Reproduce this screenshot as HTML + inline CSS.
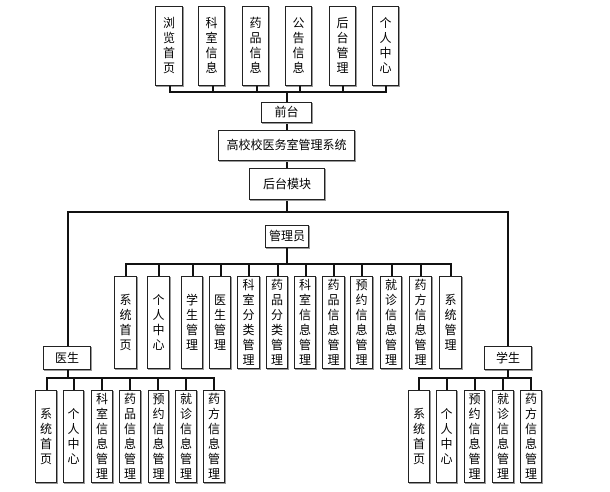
<!DOCTYPE html><html><head><meta charset="utf-8"><style>
body{margin:0;width:610px;height:492px;background:#fff;position:relative;overflow:hidden;font-family:"Liberation Sans","Noto Sans CJK SC",sans-serif;}
.b{position:absolute;box-sizing:border-box;border:1px solid #222;box-shadow:1px 1px 0 #999;background:#fff;display:flex;align-items:center;justify-content:center;text-align:center;font-size:12px;line-height:15px;color:#000}
.h{position:absolute;height:1.5px;background:#111}
.v{position:absolute;width:1.5px;background:#111}
</style></head><body>
<!-- top -->
<div class="b" style="left:155px;top:6px;width:28px;height:80px">浏<br>览<br>首<br>页</div>
<div class="b" style="left:198px;top:6px;width:27px;height:80px">科<br>室<br>信<br>息</div>
<div class="b" style="left:242px;top:6px;width:27px;height:80px">药<br>品<br>信<br>息</div>
<div class="b" style="left:285px;top:6px;width:27px;height:80px">公<br>告<br>信<br>息</div>
<div class="b" style="left:329px;top:6px;width:27px;height:80px">后<br>台<br>管<br>理</div>
<div class="b" style="left:372px;top:6px;width:27px;height:80px">个<br>人<br>中<br>心</div>
<div class="v" style="left:169px;top:86px;height:6px"></div>
<div class="v" style="left:212px;top:86px;height:6px"></div>
<div class="v" style="left:256px;top:86px;height:6px"></div>
<div class="v" style="left:299px;top:86px;height:6px"></div>
<div class="v" style="left:342px;top:86px;height:6px"></div>
<div class="v" style="left:385px;top:86px;height:6px"></div>
<div class="h" style="left:169px;top:91px;width:218px"></div>
<div class="v" style="left:286px;top:91px;height:120px"></div>
<div class="b" style="left:261px;top:102px;width:51px;height:21px">前台</div>
<div class="b" style="left:218px;top:130px;width:137px;height:31px">高校校医务室管理系统</div>
<div class="b" style="left:249px;top:168px;width:76px;height:32px">后台模块</div>
<div class="h" style="left:67px;top:211px;width:442px"></div>
<div class="v" style="left:67px;top:211px;height:135px"></div>
<div class="v" style="left:507px;top:211px;height:135px"></div>
<div class="b" style="left:265px;top:225px;width:44px;height:23px">管理员</div>
<div class="v" style="left:286px;top:248px;height:16px"></div>
<div class="h" style="left:125px;top:263px;width:326px"></div>
<div class="v" style="left:125px;top:263px;height:13px"></div><div class="v" style="left:158px;top:263px;height:13px"></div><div class="v" style="left:192px;top:263px;height:13px"></div><div class="v" style="left:220px;top:263px;height:13px"></div><div class="v" style="left:248px;top:263px;height:13px"></div><div class="v" style="left:277px;top:263px;height:13px"></div><div class="v" style="left:305px;top:263px;height:13px"></div><div class="v" style="left:333px;top:263px;height:13px"></div><div class="v" style="left:361px;top:263px;height:13px"></div><div class="v" style="left:391px;top:263px;height:13px"></div><div class="v" style="left:420px;top:263px;height:13px"></div><div class="v" style="left:450px;top:263px;height:13px"></div>
<div class="b" style="left:114px;top:276px;width:23px;height:93px">系<br>统<br>首<br>页</div>
<div class="b" style="left:147px;top:276px;width:23px;height:93px">个<br>人<br>中<br>心</div>
<div class="b" style="left:181px;top:276px;width:22px;height:93px">学<br>生<br>管<br>理</div>
<div class="b" style="left:209px;top:276px;width:22px;height:93px">医<br>生<br>管<br>理</div>
<div class="b" style="left:237px;top:276px;width:23px;height:93px">科<br>室<br>分<br>类<br>管<br>理</div>
<div class="b" style="left:266px;top:276px;width:22px;height:93px">药<br>品<br>分<br>类<br>管<br>理</div>
<div class="b" style="left:294px;top:276px;width:22px;height:93px">科<br>室<br>信<br>息<br>管<br>理</div>
<div class="b" style="left:322px;top:276px;width:23px;height:93px">药<br>品<br>信<br>息<br>管<br>理</div>
<div class="b" style="left:350px;top:276px;width:23px;height:93px">预<br>约<br>信<br>息<br>管<br>理</div>
<div class="b" style="left:380px;top:276px;width:22px;height:93px">就<br>诊<br>信<br>息<br>管<br>理</div>
<div class="b" style="left:409px;top:276px;width:23px;height:93px">药<br>方<br>信<br>息<br>管<br>理</div>
<div class="b" style="left:439px;top:276px;width:23px;height:93px">系<br>统<br>管<br>理</div>
<!-- doctor -->
<div class="b" style="left:43px;top:346px;width:48px;height:24px">医生</div>
<div class="v" style="left:67px;top:370px;height:8px"></div>
<div class="h" style="left:46px;top:377px;width:168px"></div>
<div class="v" style="left:46px;top:377px;height:13px"></div><div class="v" style="left:73px;top:377px;height:13px"></div><div class="v" style="left:101px;top:377px;height:13px"></div><div class="v" style="left:129px;top:377px;height:13px"></div><div class="v" style="left:157px;top:377px;height:13px"></div><div class="v" style="left:185px;top:377px;height:13px"></div><div class="v" style="left:213px;top:377px;height:13px"></div>
<div class="b" style="left:35px;top:390px;width:22px;height:93px">系<br>统<br>首<br>页</div>
<div class="b" style="left:63px;top:390px;width:21px;height:93px">个<br>人<br>中<br>心</div>
<div class="b" style="left:91px;top:390px;width:22px;height:93px">科<br>室<br>信<br>息<br>管<br>理</div>
<div class="b" style="left:119px;top:390px;width:22px;height:93px">药<br>品<br>信<br>息<br>管<br>理</div>
<div class="b" style="left:148px;top:390px;width:21px;height:93px">预<br>约<br>信<br>息<br>管<br>理</div>
<div class="b" style="left:175px;top:390px;width:22px;height:93px">就<br>诊<br>信<br>息<br>管<br>理</div>
<div class="b" style="left:203px;top:390px;width:22px;height:93px">药<br>方<br>信<br>息<br>管<br>理</div>
<!-- student -->
<div class="b" style="left:484px;top:346px;width:48px;height:24px">学生</div>
<div class="v" style="left:507px;top:370px;height:8px"></div>
<div class="h" style="left:418px;top:377px;width:114px"></div>
<div class="v" style="left:418px;top:377px;height:13px"></div><div class="v" style="left:446px;top:377px;height:13px"></div><div class="v" style="left:474px;top:377px;height:13px"></div><div class="v" style="left:502px;top:377px;height:13px"></div><div class="v" style="left:530px;top:377px;height:13px"></div>
<div class="b" style="left:408px;top:390px;width:22px;height:93px">系<br>统<br>首<br>页</div>
<div class="b" style="left:436px;top:390px;width:21px;height:93px">个<br>人<br>中<br>心</div>
<div class="b" style="left:464px;top:390px;width:21px;height:93px">预<br>约<br>信<br>息<br>管<br>理</div>
<div class="b" style="left:492px;top:390px;width:22px;height:93px">就<br>诊<br>信<br>息<br>管<br>理</div>
<div class="b" style="left:520px;top:390px;width:22px;height:93px">药<br>方<br>信<br>息<br>管<br>理</div>
</body></html>
